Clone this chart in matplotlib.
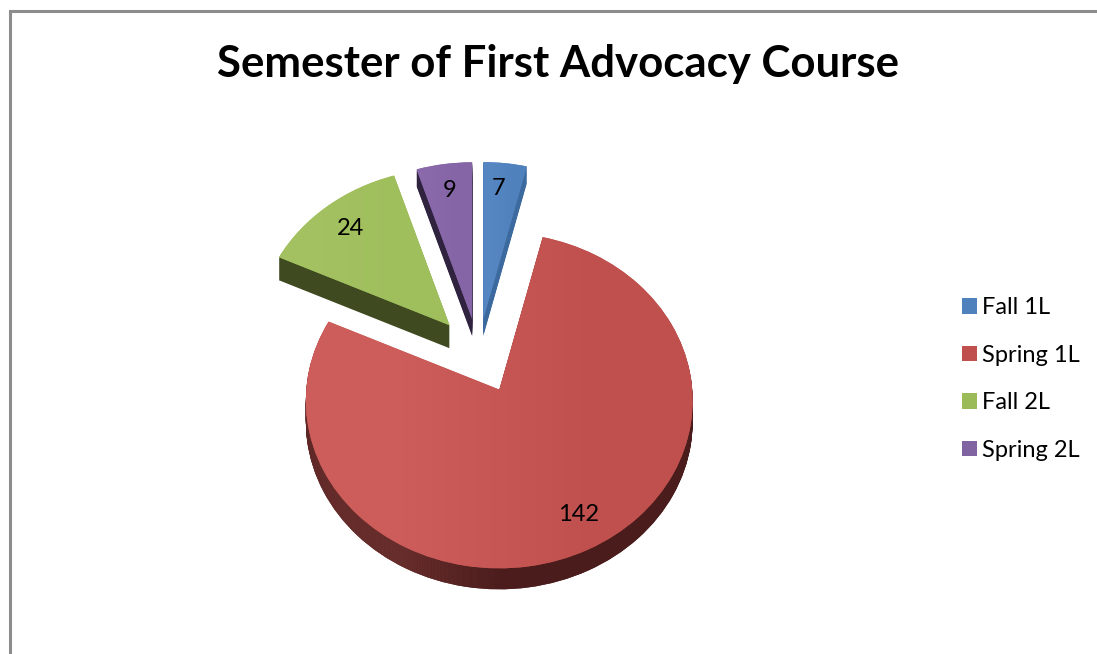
# Semester of First Advocacy Course : camembert "3D" éclaté façon Excel
import numpy as np
import matplotlib
matplotlib.use("Agg")
import matplotlib.pyplot as plt
from matplotlib.colors import LinearSegmentedColormap
from matplotlib.patches import PathPatch, Patch
from matplotlib.path import Path

plt.rcParams["font.family"] = ["Lato", "DejaVu Sans"]

TITLE = "Semester of First Advocacy Course"
categories = ["Fall 1L", "Spring 1L", "Fall 2L", "Spring 2L"]
values = [7, 142, 24, 9]

LEGEND_COLORS = ["#4f81bd", "#c0504d", "#9bbb59", "#8064a2"]
# gauche -> droite pour le dessus et pour le flanc
TOP_COLORS = [("#5586c2", "#4f81bd"), ("#cc5d5a", "#bf504d"),
              ("#a3c160", "#9fbe5c"), ("#8a69aa", "#8565a5")]
SIDE_COLORS = [("#3c6a9e", "#3c6a9e"), ("#6e3230", "#4e1e1e", "#4a1c1c"),
               ("#3f4a21", "#3f4a21"), ("#30233f", "#30233f")]
DEPTHS = [17, 21, 23, 17]
LABEL_SHIFT = [(-3, -1), (7, -5), (2, 2), (1, 0)]
APEX_NUDGE = [(-2, 2), (0, 0), (-1, -1), (-1, 2)]
EXPLODE = 0.23

# géométrie de la projection, en pixels
CX, CY = 480, 355
RX, RY = 193, 167
PERSP = 0.0655


def project(pts, apex):
    """Passe du disque unité à l'ellipse vue en perspective."""
    d = 1 + PERSP * pts[:, 1]
    return np.column_stack((apex[0] + RX * pts[:, 0] / d,
                            apex[1] - RY * pts[:, 1] / d))


def shaded_patch(ax, verts, codes, cols, zorder):
    """Remplit le chemin avec un dégradé horizontal."""
    patch = PathPatch(Path(verts, codes), fc=cols[-1], ec="none", zorder=zorder)
    ax.add_patch(patch)
    if cols[0] != cols[-1]:
        cmap = LinearSegmentedColormap.from_list("g", cols)
        im = ax.imshow([[0.0, 1.0]], cmap=cmap, aspect="auto", zorder=zorder,
                       interpolation="bilinear",
                       extent=(verts[:, 0].min(), verts[:, 0].max(),
                               verts[:, 1].max(), verts[:, 1].min()))
        im.set_clip_path(patch)


fig = plt.figure(figsize=(10.97, 6.54), dpi=100, facecolor="white")
ax = fig.add_axes([0, 0, 1, 1])

wedges, _ = ax.pie(values, explode=[EXPLODE] * len(values), radius=1,
                   startangle=90, counterclock=False)

z = 2
for w, val, top, side, depth, shift, nudge in zip(wedges, values, TOP_COLORS, SIDE_COLORS,
                                                  DEPTHS, LABEL_SHIFT, APEX_NUDGE):
    path = w.get_path()
    cx, cy = w.center
    unit = (path.vertices - np.array([cx, cy])) / w.r
    apex = (CX + RX * cx + nudge[0], CY - RY * cy + nudge[1])
    verts = project(unit, apex)
    for dy in range(depth, 0, -1):
        shaded_patch(ax, verts + [0, dy], path.codes, side, z)
        z += 1
    shaded_patch(ax, verts, path.codes, top, z)
    z += 1
    # étiquette de valeur au milieu de la part
    mid = np.deg2rad((w.theta1 + w.theta2) / 2)
    lab = project(np.array([[0.82 * np.cos(mid), 0.82 * np.sin(mid)]]), apex)[0]
    ax.text(lab[0] + shift[0], lab[1] + shift[1], str(val), ha="center", va="center",
            fontsize=17, color="black", zorder=1000)
    w.remove()

ax.set_aspect("auto")
ax.set_xlim(0, 1097)
ax.set_ylim(654, 0)
ax.axis("off")

# cadre du graphique
ax.plot([1097, 9.5, 9.5], [10.5, 10.5, 654], color="#8c8c8c", lw=2.2,
        solid_joinstyle="miter", zorder=1)

ax.text(558, 64, TITLE, ha="center", va="center", fontsize=31.5, fontweight="bold",
        color="black")

handles = [Patch(fc=c, ec="none") for c in LEGEND_COLORS]
ax.legend(handles, categories, loc="center left", bbox_to_anchor=(962 / 1097, 1 - 379 / 654),
          frameon=False, fontsize=17, handlelength=0.635, handleheight=0.635,
          handletextpad=0.22, labelspacing=1.123, borderpad=0, borderaxespad=0)

plt.savefig("out.png", dpi=100)
